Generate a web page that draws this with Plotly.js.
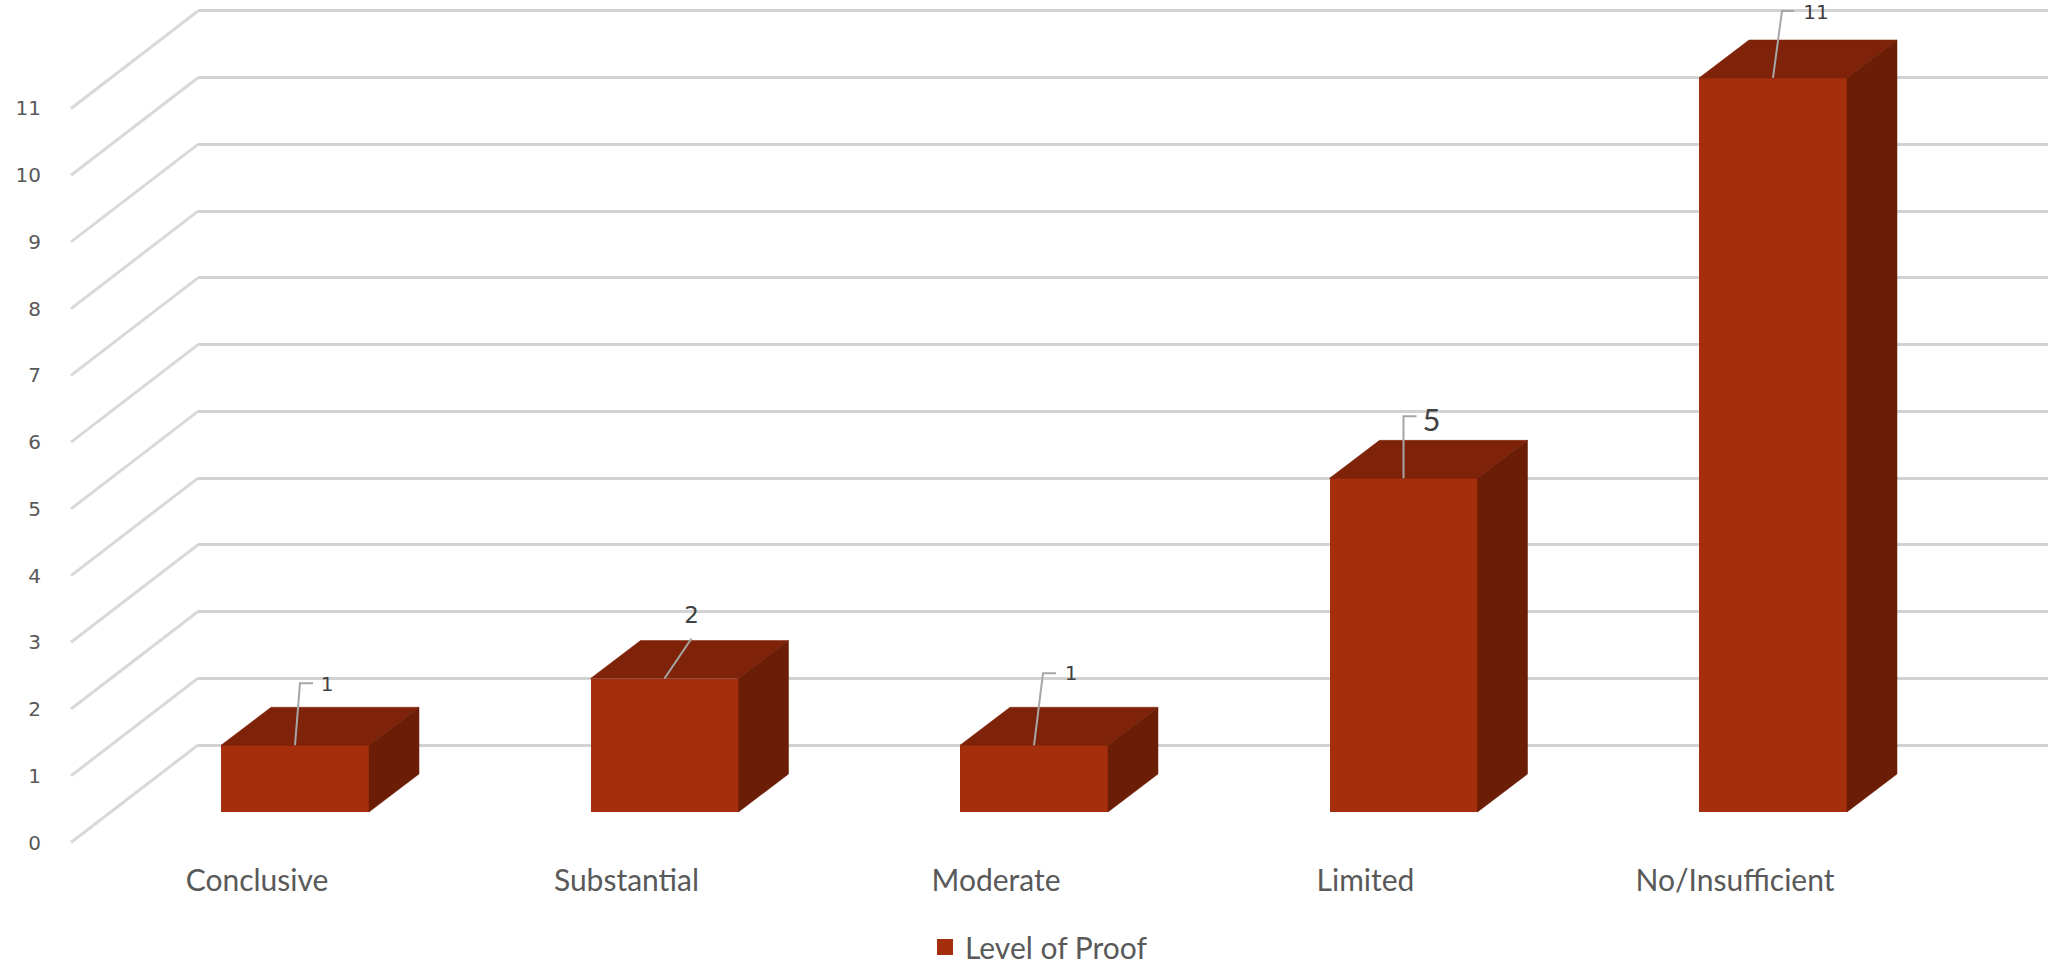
<!DOCTYPE html>
<html>
<head>
<meta charset="utf-8">
<script src="https://cdn.plot.ly/plotly-3.0.1.min.js"></script>
<style>html,body{margin:0;padding:0;background:#fff}#chart{width:2048px;height:964px}</style>
</head>
<body>
<div id="chart"></div>
<script>
// Data
const categories = ["Conclusive", "Substantial", "Moderate", "Limited", "No/Insufficient"];
const proofValues = [1, 2, 1, 5, 11];
const seriesName = "Level of Proof";
const axisTicks = [0, 1, 2, 3, 4, 5, 6, 7, 8, 9, 10, 11];

// Scale constants of the faked 3D projection
const PLOT_LEFT = 42, PLOT_BOTTOM = 860, WIDTH = 2048, HEIGHT = 964;
const X_STEP = 369.5, Y_STEP = 66.73;         // px per category, px per unit
const X_ZERO = 257;                           // px of category 0 label
const Y_BAR_ZERO = 812, Y_TICK_ZERO = 842.5, Y_WALL_ZERO = 745; // px of value 0 on each plane
const px2x = p => (p - X_ZERO) / X_STEP;
const dx2x = d => d / X_STEP;
const dy2y = d => d / Y_STEP;
const yRange = zero => [(zero - PLOT_BOTTOM) / Y_STEP, zero / Y_STEP];

const BAR_LEFT_OFFSET = -36, BAR_WIDTH = 148, DEPTH_X = 50, DEPTH_Y = 38;
const WALL_X = 198, FLOOR_X = 71;

const idx = categories.map((c, i) => i);
const offset = dx2x(BAR_LEFT_OFFSET), barW = dx2x(BAR_WIDTH), dX = dx2x(DEPTH_X), dY = dy2y(DEPTH_Y);

// Top and side faces
const topX = [], topY = [], sideX = [], sideY = [];
idx.forEach(i => {
  const l = i + offset, r = l + barW, v = proofValues[i];
  topX.push(l, r, r + dX, l + dX, l, null);
  topY.push(v, v, v + dY, v + dY, v, null);
  sideX.push(r, r + dX, r + dX, r, r, null);
  sideY.push(0, dY, v + dY, v, 0, null);
});

// Leader lines and data labels: offsets from the centre of the bar's top front edge, in px
const leaderMid = [[5, -62], [27, -40], [9, -72], [0, -62], [9, -67]];
const leaderEnd = [[18, -62], [27, -40], [22, -72], [13, -62], [21, -67]];
const labelPos = [[32, -59], [27, -61], [37, -70], [28, -55], [43, -64]];
const labelSize = [20, 23, 20, 31, 20];
const labelFont = ["DejaVu Sans", "DejaVu Sans", "DejaVu Sans", "Lato", "DejaVu Sans"];

const barCentre = i => i + offset + barW / 2;
const leadX = [], leadY = [];
idx.forEach(i => {
  const c = barCentre(i), v = proofValues[i];
  leadX.push(c, c + dx2x(leaderMid[i][0]), c + dx2x(leaderEnd[i][0]), null);
  leadY.push(v, v - dy2y(leaderMid[i][1]), v - dy2y(leaderEnd[i][1]), null);
});

// Oblique floor lines from each tick to the wall
const floorX = [], floorY = [];
const wallRise = (Y_TICK_ZERO - Y_WALL_ZERO) / Y_STEP;
axisTicks.forEach(t => {
  floorX.push(px2x(FLOOR_X), px2x(WALL_X), null);
  floorY.push(t, t + wallRise, null);
});

const traces = [
  {type: "scatter", x: [0], y: [0], xaxis: "x", yaxis: "y", mode: "none", showlegend: false, hoverinfo: "skip"},
  {type: "bar", x: idx, y: proofValues, xaxis: "x2", yaxis: "y2", width: barW, offset: offset,
   marker: {color: "#A52F0C", line: {width: 0}}, showlegend: false, name: seriesName},
  {type: "scatter", x: topX, y: topY, xaxis: "x2", yaxis: "y2", mode: "lines", fill: "toself",
   fillcolor: "#7E2309", line: {width: 0.5, color: "#7E2309"}, showlegend: false, hoverinfo: "skip"},
  {type: "scatter", x: sideX, y: sideY, xaxis: "x2", yaxis: "y2", mode: "lines", fill: "toself",
   fillcolor: "#6B1D06", line: {width: 0.5, color: "#6B1D06"}, showlegend: false, hoverinfo: "skip"},
  {type: "scatter", x: leadX, y: leadY, xaxis: "x2", yaxis: "y2", mode: "lines",
   line: {width: 2, color: "#A6A6A6"}, showlegend: false, hoverinfo: "skip"},
  {type: "scatter", x: idx.map(i => barCentre(i) + dx2x(labelPos[i][0])),
   y: idx.map(i => proofValues[i] - dy2y(labelPos[i][1])), xaxis: "x2", yaxis: "y2", mode: "text",
   text: proofValues.map(String), textposition: "middle center",
   textfont: {size: labelSize, family: labelFont, color: "#404040"}, showlegend: false, hoverinfo: "skip"},
  {type: "scatter", x: floorX, y: floorY, xaxis: "x2", yaxis: "y3", mode: "lines",
   line: {width: 3, color: "#D9D9D9"}, showlegend: false, hoverinfo: "skip"},
  {type: "scatter", x: [null], y: [null], xaxis: "x2", yaxis: "y2", mode: "markers", name: seriesName,
   marker: {symbol: "square", size: 16, color: "#A52F0C"}, showlegend: true, hoverinfo: "skip"}
];

const layout = {
  width: WIDTH, height: HEIGHT,
  margin: {l: PLOT_LEFT, r: 0, t: 0, b: HEIGHT - PLOT_BOTTOM, pad: 0, autoexpand: false},
  paper_bgcolor: "#fff", plot_bgcolor: "rgba(0,0,0,0)",
  font: {family: "Lato, sans-serif", color: "#595959"},
  bargap: 0,
  hovermode: false,
  xaxis: {domain: [(WALL_X - PLOT_LEFT) / (WIDTH - PLOT_LEFT), 1], range: [0, 1], anchor: "y",
          showgrid: false, zeroline: false, showline: false, ticks: "", showticklabels: false},
  yaxis: {range: yRange(Y_WALL_ZERO), anchor: "x", tickvals: axisTicks, showgrid: true,
          gridcolor: "#D2D2D2", gridwidth: 3, zeroline: false, showline: false, ticks: "", showticklabels: false},
  xaxis2: {domain: [0, 1], range: [px2x(PLOT_LEFT), px2x(WIDTH)], anchor: "y2",
           tickvals: idx, ticktext: categories, tickfont: {family: "Lato, sans-serif", size: 30, color: "#595959"},
           showgrid: false, zeroline: false, showline: false, ticks: ""},
  yaxis2: {range: yRange(Y_BAR_ZERO), anchor: "x2", showgrid: false, zeroline: false, showline: false,
           ticks: "", showticklabels: false},
  yaxis3: {range: yRange(Y_TICK_ZERO), anchor: "x2", overlaying: "y2", side: "left", tickvals: axisTicks,
           tickfont: {family: "DejaVu Sans", size: 20, color: "#595959"},
           showgrid: false, zeroline: false, showline: false, ticks: ""},
  showlegend: true,
  legend: {orientation: "h", xanchor: "left", yanchor: "middle", x: (925 - PLOT_LEFT) / (WIDTH - PLOT_LEFT),
           y: (PLOT_BOTTOM - 947) / PLOT_BOTTOM, font: {family: "Lato, sans-serif", size: 30, color: "#595959"},
           bgcolor: "rgba(0,0,0,0)"}
};

Plotly.newPlot("chart", traces, layout, {displayModeBar: false, staticPlot: true});
</script>
</body>
</html>
